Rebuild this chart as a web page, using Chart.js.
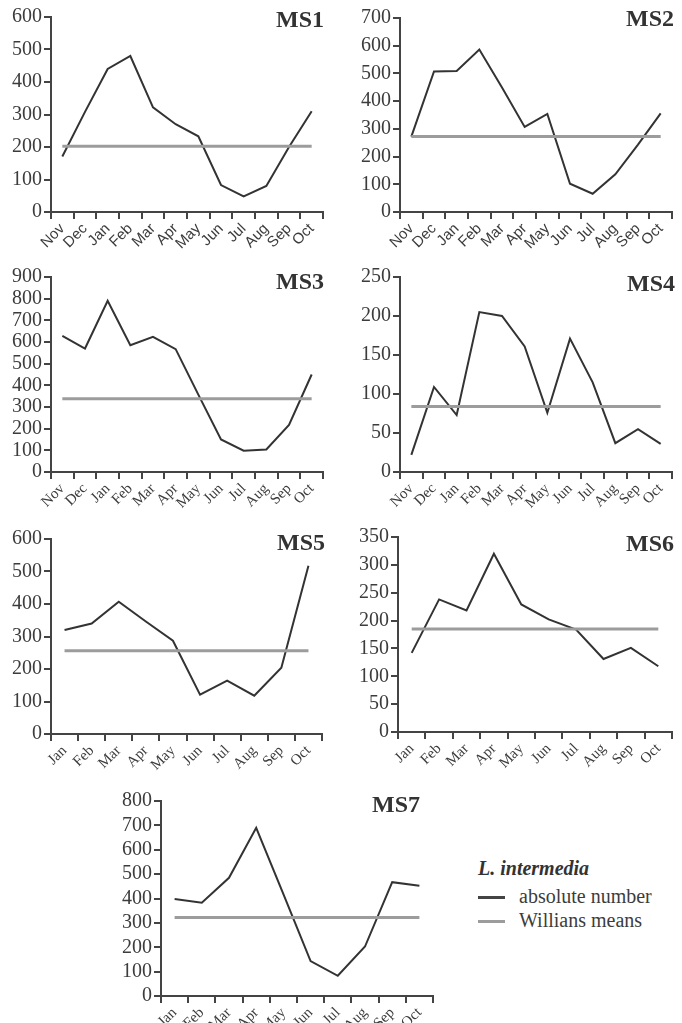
<!DOCTYPE html>
<html>
<head>
<meta charset="utf-8">
<script src="https://cdn.jsdelivr.net/npm/chart.js@4/dist/chart.umd.min.js"></script>
<style>
  html, body { margin: 0; padding: 0; background: #fff; }
  body { width: 682px; height: 1023px; position: relative; overflow: hidden; }
  canvas { position: absolute; }
  .lg { position: absolute; font: 20px "Liberation Serif", serif; color: #3c3c3c; line-height: 24px; white-space: nowrap; }
  .lg-title { font-weight: bold; font-style: italic; color: #333; }
  .sw { position: absolute; width: 27px; height: 3px; }
</style>
</head>
<body>
<div id="panels"></div>
<div class="lg lg-title" style="left:478px;top:856px">L. intermedia</div>
<span class="sw" style="left:478px;top:896px;background:#444"></span>
<div class="lg" style="left:519px;top:884px">absolute number</div>
<span class="sw" style="left:478px;top:920px;background:#9c9c9c"></span>
<div class="lg" style="left:519px;top:908px">Willians means</div>

<script>
// Sampling months
const monthsNovOct = ['Nov', 'Dec', 'Jan', 'Feb', 'Mar', 'Apr', 'May', 'Jun', 'Jul', 'Aug', 'Sep', 'Oct'];
const monthsJanOct = ['Jan', 'Feb', 'Mar', 'Apr', 'May', 'Jun', 'Jul', 'Aug', 'Sep', 'Oct'];

// Absolute numbers of L. intermedia per month, and the Williams mean, per station
const ms1Counts = [171, 308, 440, 480, 322, 270, 233, 83, 48, 80, 200, 310];
const ms1Mean = 202;
const ms2Counts = [272, 507, 509, 586, 449, 307, 354, 102, 66, 136, 243, 356];
const ms2Mean = 272;
const ms3Counts = [628, 570, 790, 585, 624, 567, 357, 150, 98, 104, 217, 450];
const ms3Mean = 338;
const ms4Counts = [22, 109, 73, 205, 200, 161, 76, 171, 115, 37, 55, 36];
const ms4Mean = 84;
const ms5Counts = [320, 340, 407, 346, 287, 121, 164, 118, 204, 518];
const ms5Mean = 256;
const ms6Counts = [142, 238, 218, 320, 229, 202, 184, 131, 151, 118];
const ms6Mean = 185;
const ms7Counts = [398, 383, 485, 690, 418, 143, 83, 203, 467, 452];
const ms7Mean = 322;

// Y axis ranges
const ms1Y = { max: 600, step: 100 };
const ms2Y = { max: 700, step: 100 };
const ms3Y = { max: 900, step: 100 };
const ms4Y = { max: 250, step: 50 };
const ms5Y = { max: 600, step: 100 };
const ms6Y = { max: 350, step: 50 };
const ms7Y = { max: 800, step: 100 };

const SERIF = '"Liberation Serif", "Times New Roman", serif';
const SANS = '"Liberation Sans", Arial, sans-serif';
const AXIS = '#444';
const TEXT = '#3c3c3c';

const Y_W = 50;     // width reserved for the y axis
const X_H = 48;     // height reserved for the x axis
const PAD_T = 16;
const PAD_R = 8;

const panels = [
  { name: 'MS1', labels: monthsNovOct, counts: ms1Counts, mean: ms1Mean, y: ms1Y, xFont: SANS,
    area: { l: 51, t: 17, r: 323, b: 212 }, tdx: 1, tdy: 10 },
  { name: 'MS2', labels: monthsNovOct, counts: ms2Counts, mean: ms2Mean, y: ms2Y, xFont: SANS,
    area: { l: 400, t: 18, r: 672, b: 212 }, tdx: 2, tdy: 8 },
  { name: 'MS3', labels: monthsNovOct, counts: ms3Counts, mean: ms3Mean, y: ms3Y, xFont: SERIF,
    area: { l: 51, t: 277, r: 323, b: 472 }, tdx: 1, tdy: 12 },
  { name: 'MS4', labels: monthsNovOct, counts: ms4Counts, mean: ms4Mean, y: ms4Y, xFont: SERIF,
    area: { l: 400, t: 277, r: 672, b: 472 }, tdx: 3, tdy: 14 },
  { name: 'MS5', labels: monthsJanOct, counts: ms5Counts, mean: ms5Mean, y: ms5Y, xFont: SERIF,
    area: { l: 51, t: 539, r: 322, b: 734 }, tdx: 3, tdy: 11 },
  { name: 'MS6', labels: monthsJanOct, counts: ms6Counts, mean: ms6Mean, y: ms6Y, xFont: SERIF,
    area: { l: 398, t: 537, r: 672, b: 732 }, tdx: 2, tdy: 14 },
  { name: 'MS7', labels: monthsJanOct, counts: ms7Counts, mean: ms7Mean, y: ms7Y, xFont: SERIF,
    area: { l: 161, t: 801, r: 433, b: 996 }, tdx: -13, tdy: 11 }
];

// Station name in the top-right corner of each panel
const panelTitle = {
  id: 'panelTitle',
  afterDraw(chart, args, opts) {
    const { ctx, chartArea } = chart;
    ctx.save();
    ctx.font = 'bold 24px ' + SERIF;
    ctx.fillStyle = '#333';
    ctx.textAlign = 'right';
    ctx.textBaseline = 'alphabetic';
    ctx.fillText(opts.text, chartArea.right + opts.dx, chartArea.top + opts.dy);
    ctx.restore();
  }
};

const host = document.getElementById('panels');

panels.forEach(p => {
  const w = (p.area.r - p.area.l) + Y_W + PAD_R;
  const h = (p.area.b - p.area.t) + PAD_T + X_H;
  const canvas = document.createElement('canvas');
  canvas.style.left = (p.area.l - Y_W) + 'px';
  canvas.style.top = (p.area.t - PAD_T) + 'px';
  canvas.style.width = w + 'px';
  canvas.style.height = h + 'px';
  canvas.width = w;
  canvas.height = h;
  host.appendChild(canvas);

  new Chart(canvas, {
    type: 'line',
    data: {
      labels: p.labels,
      datasets: [
        {
          label: 'Willians means',
          data: p.labels.map(() => p.mean),
          borderColor: '#9c9c9c',
          borderWidth: 3,
          pointRadius: 0,
          tension: 0
        },
        {
          label: 'absolute number',
          data: p.counts,
          borderColor: '#333',
          borderWidth: 2,
          pointRadius: 0,
          tension: 0
        }
      ]
    },
    options: {
      responsive: false,
      animation: false,
      events: [],
      layout: { padding: { top: PAD_T, right: PAD_R, left: 0, bottom: 0 } },
      plugins: {
        legend: { display: false },
        tooltip: { enabled: false },
        panelTitle: { text: p.name, dx: p.tdx, dy: p.tdy }
      },
      scales: {
        x: {
          offset: true,
          grid: { offset: true, drawOnChartArea: false, drawTicks: true, tickLength: 7, color: AXIS, lineWidth: 2 },
          border: { color: AXIS, width: 2 },
          ticks: {
            autoSkip: false, minRotation: 45, maxRotation: 45, padding: 1,
            color: TEXT, font: { family: p.xFont, size: 15 }
          },
          afterFit(scale) { scale.height = X_H; }
        },
        y: {
          min: 0,
          max: p.y.max,
          grid: { drawOnChartArea: false, drawTicks: true, tickLength: 7, color: AXIS, lineWidth: 2 },
          border: { color: AXIS, width: 2 },
          ticks: {
            stepSize: p.y.step, autoSkip: false, padding: 2,
            color: TEXT, font: { family: SERIF, size: 20 }
          },
          afterFit(scale) { scale.width = Y_W; }
        }
      }
    },
    plugins: [panelTitle]
  });
});
</script>
</body>
</html>
